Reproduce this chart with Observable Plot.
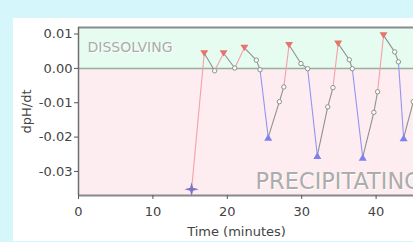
<!DOCTYPE html>
<html><head><meta charset="utf-8">
<script src="https://cdn.jsdelivr.net/npm/d3@7"></script>
<script src="https://cdn.jsdelivr.net/npm/@observablehq/plot@0.6"></script>
<style>
html,body{margin:0;padding:0;width:413px;height:242px;overflow:hidden;background:#d5f7fb;}
#panel{position:absolute;left:13px;top:18px;width:400px;height:223px;background:#fff;overflow:hidden;}
#panel svg{max-width:none !important;}
</style></head><body><div id="panel"></div>
<script>
// Data
const time  = [15.2, 16.9, 18.3, 19.5, 21.0, 22.3, 23.9, 24.4, 25.5, 27.0, 27.6, 28.3, 29.9, 30.8, 32.1, 33.5, 34.2, 34.9, 36.4, 36.8, 38.2, 39.7, 40.2, 41.0, 42.5, 43.0, 43.7, 45.0];
const dpHdt = [-0.0352, 0.0044, -0.0007, 0.0044, 0.0001, 0.0060, 0.0024, -0.0004, -0.0201, -0.0097, -0.0054, 0.0068, 0.0014, -0.0001, -0.0254, -0.0112, -0.0056, 0.0072, 0.0025, -0.0001, -0.0259, -0.0128, -0.0068, 0.0096, 0.0048, 0.0019, -0.0202, -0.0097];
const kind  = ["start","max","mid","max","mid","max","mid","mid","min","mid","mid","max","mid","mid","min","mid","mid","max","mid","mid","min","mid","mid","max","mid","mid","min","mid"];
const xTicks = [0, 10, 20, 30, 40];
const yTicks = [0.01, 0, -0.01, -0.02, -0.03];
const xDomain = [0, 50];
const yDomain = [-0.037, 0.0119];
const zoneLabels = ["DISSOLVING", "PRECIPITATING"];
const xLabel = "Time (minutes)";
const yLabel = "dpH/dt";

const points = time.map((t, i) => ({t, v: dpHdt[i], k: kind[i]}));
const segs = points.slice(1).map((p, i) => ({x1: points[i].t, y1: points[i].v, x2: p.t, y2: p.v, k: p.k}));
const segColor = k => k === "max" ? "#f5a0a6" : k === "min" ? "#9494f2" : "#909090";

const triDown = {draw(ctx, size){ const s = Math.sqrt(size); ctx.moveTo(-s/2, -s*0.38); ctx.lineTo(s/2, -s*0.38); ctx.lineTo(0, s*0.42); ctx.closePath(); }};
const triUp = {draw(ctx, size){ const s = Math.sqrt(size); ctx.moveTo(-s/2, s*0.42); ctx.lineTo(s/2, s*0.42); ctx.lineTo(0, -s*0.42); ctx.closePath(); }};
const star4 = {draw(ctx, size){ const s = Math.sqrt(size); const a = s*0.78, b = s*0.16;
  ctx.moveTo(0,-a); ctx.lineTo(b,-b); ctx.lineTo(a,0); ctx.lineTo(b,b); ctx.lineTo(0,a); ctx.lineTo(-b,b); ctx.lineTo(-a,0); ctx.lineTo(-b,-b); ctx.closePath(); }};

const zones = [{label: zoneLabels[0], y1: 0, y2: yDomain[1]}];

const chart = Plot.plot({
  width: 437, height: 223,
  marginLeft: 65, marginRight: 0, marginTop: 9, marginBottom: 46,
  style: {fontFamily: "DejaVu Sans", fontSize: "13px", background: "transparent", color: "#444", maxWidth: "none"},
  x: {domain: xDomain},
  y: {domain: yDomain},
  marks: [
    Plot.frame({fill: "#fdedf0"}),
    Plot.rect(zones, {x1: xDomain[0], x2: xDomain[1], y1: "y1", y2: "y2", fill: "#e6fcf1"}),
    Plot.ruleY([0], {stroke: "#98ae9f", strokeWidth: 1.5}),
    Plot.text([zoneLabels[0]], {frameAnchor: "top-left", text: d => d, dx: 10, dy: 16, lineAnchor: "top", textAnchor: "start", fontSize: 14, fill: "#fff"}),
    Plot.text([zoneLabels[0]], {frameAnchor: "top-left", text: d => d, dx: 9, dy: 15, lineAnchor: "top", textAnchor: "start", fontSize: 14, fill: "#ababab"}),
    Plot.text([zoneLabels[1]], {frameAnchor: "bottom-left", text: d => d, dx: 178, dy: -5.7, lineAnchor: "bottom", textAnchor: "start", fontSize: 22.5, fill: "#fff"}),
    Plot.text([zoneLabels[1]], {frameAnchor: "bottom-left", text: d => d, dx: 177, dy: -6.7, lineAnchor: "bottom", textAnchor: "start", fontSize: 22.5, fill: "#acacac"}),
    Plot.link(segs, {x1: "x1", y1: "y1", x2: "x2", y2: "y2", stroke: d => segColor(d.k), strokeWidth: 1.1}),
    Plot.dot(points.filter(d => d.k === "mid"), {x: "t", y: "v", r: 2.2, stroke: "#8c958f", fill: "#fbfbfb", strokeWidth: 1}),
    Plot.dot(points.filter(d => d.k === "max"), {x: "t", y: "v", r: 4.5, symbol: triDown, fill: "#e8736d", stroke: "none"}),
    Plot.dot(points.filter(d => d.k === "min"), {x: "t", y: "v", r: 4.5, symbol: triUp, fill: "#7f7ff0", stroke: "none"}),
    Plot.dot(points.filter(d => d.k === "start"), {x: "t", y: "v", r: 5.2, symbol: star4, fill: "#7a74c8", stroke: "none"}),
    Plot.ruleY([yDomain[1]], {stroke: "#8a8a8a", strokeWidth: 2}),
    Plot.ruleY([yDomain[0]], {stroke: "#888", strokeWidth: 2}),
    Plot.ruleX([xDomain[0]], {stroke: "#6f6f6f", strokeWidth: 1.5}),
    Plot.axisY({ticks: yTicks, tickSize: 4, tickPadding: 2, tickFormat: d => d.toFixed(2), label: null, stroke: "#555", fill: "#444"}),
    Plot.axisX({ticks: xTicks, tickSize: 4, tickPadding: 7, tickFormat: d => String(d), label: null, stroke: "#555", fill: "#444"}),
    Plot.text([xLabel], {frameAnchor: "bottom-left", text: d => d, dx: 158, dy: 40, lineAnchor: "bottom", textAnchor: "middle", fontSize: 13, fill: "#444"}),
    Plot.text([yLabel], {frameAnchor: "left", text: d => d, dx: -52, rotate: -90, lineAnchor: "middle", textAnchor: "middle", fontSize: 13, fill: "#444"})
  ]
});
document.getElementById("panel").appendChild(chart);
</script>
</body></html>
